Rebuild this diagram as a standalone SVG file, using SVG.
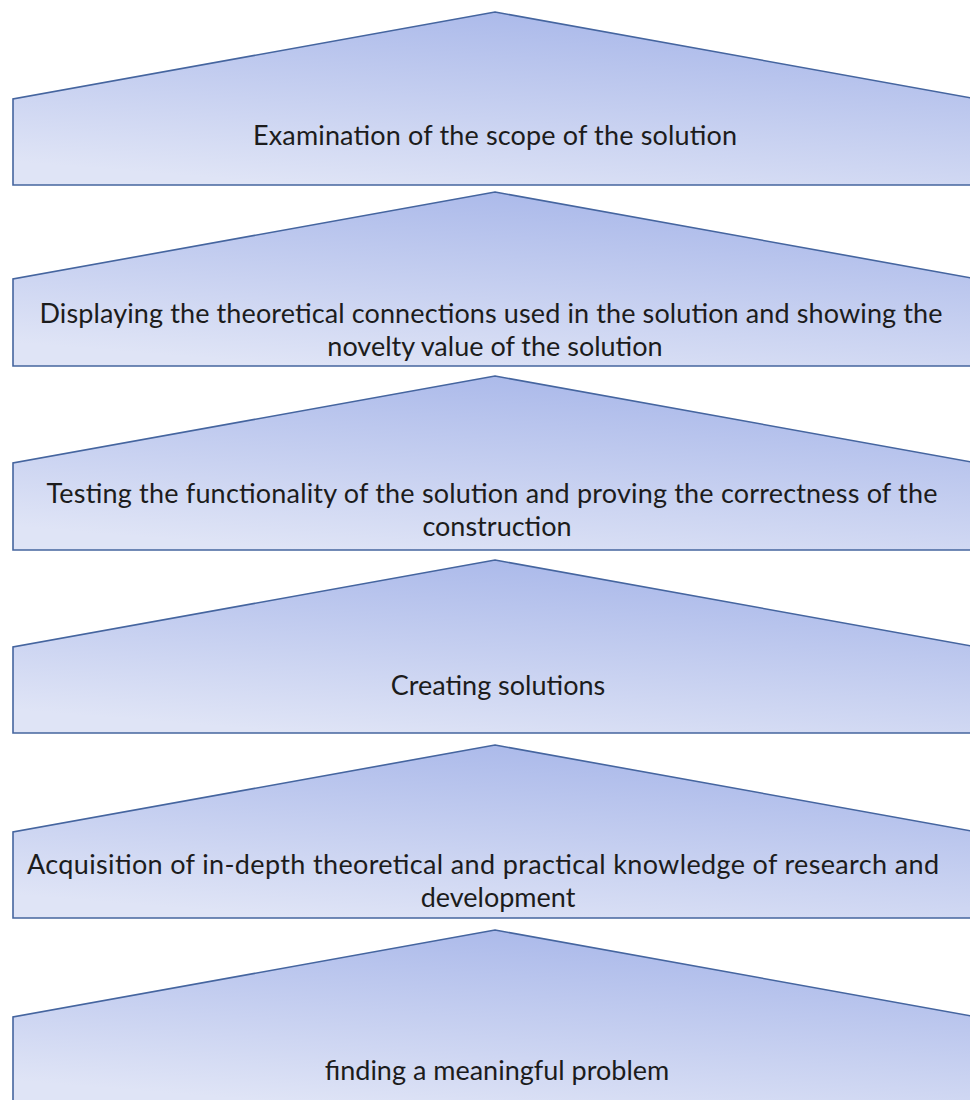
<svg xmlns="http://www.w3.org/2000/svg" width="970" height="1100" viewBox="0 0 970 1100">
  <defs>
    <linearGradient id="fillGrad" x1="0.75" y1="0" x2="0.3" y2="1">
      <stop offset="0" stop-color="#a7b6e9"/>
      <stop offset="1" stop-color="#dfe4f6"/>
    </linearGradient>
  </defs>
  <style>
    .step { fill: url(#fillGrad); stroke: #45659f; stroke-width: 1.6; stroke-linejoin: miter; }
    .label { font-family: Lato, "Open Sans", "DejaVu Sans", sans-serif; font-size: 27px; fill: #1c1c1c; text-anchor: middle; }
  </style>

  <rect width="970" height="1100" fill="#ffffff"/>

  <!-- top step -->
  <g id="step-scope">
    <polygon class="step" points="495,12 977,99 977,185 13,185 13,99"/>
    <text class="label" x="495" y="145" textLength="484">Examination of the scope of the solution</text>
  </g>

  <g id="step-theory">
    <polygon class="step" points="495,192 977,279 977,366 13,366 13,279"/>
    <text class="label" x="491" y="323" textLength="903">Displaying the theoretical connections used in the solution and showing the</text>
    <text class="label" x="495" y="356">novelty value of the solution</text>
  </g>

  <g id="step-testing">
    <polygon class="step" points="495,376 977,463 977,550 13,550 13,463"/>
    <text class="label" x="492" y="503" textLength="891">Testing the functionality of the solution and proving the correctness of the</text>
    <text class="label" x="497" y="536">construction</text>
  </g>

  <g id="step-creating">
    <polygon class="step" points="495,560 977,647 977,733 13,733 13,647"/>
    <text class="label" x="498" y="695">Creating solutions</text>
  </g>

  <g id="step-knowledge">
    <polygon class="step" points="495,745 977,832 977,918 13,918 13,832"/>
    <text class="label" x="483" y="874" textLength="912">Acquisition of in-depth theoretical and practical knowledge of research and</text>
    <text class="label" x="498" y="907">development</text>
  </g>

  <!-- bottom step -->
  <g id="step-problem">
    <polygon class="step" points="495,930 977,1017 977,1104 13,1104 13,1017"/>
    <text class="label" x="497" y="1080">finding a meaningful problem</text>
  </g>

  <g id="connectors"/>
</svg>
